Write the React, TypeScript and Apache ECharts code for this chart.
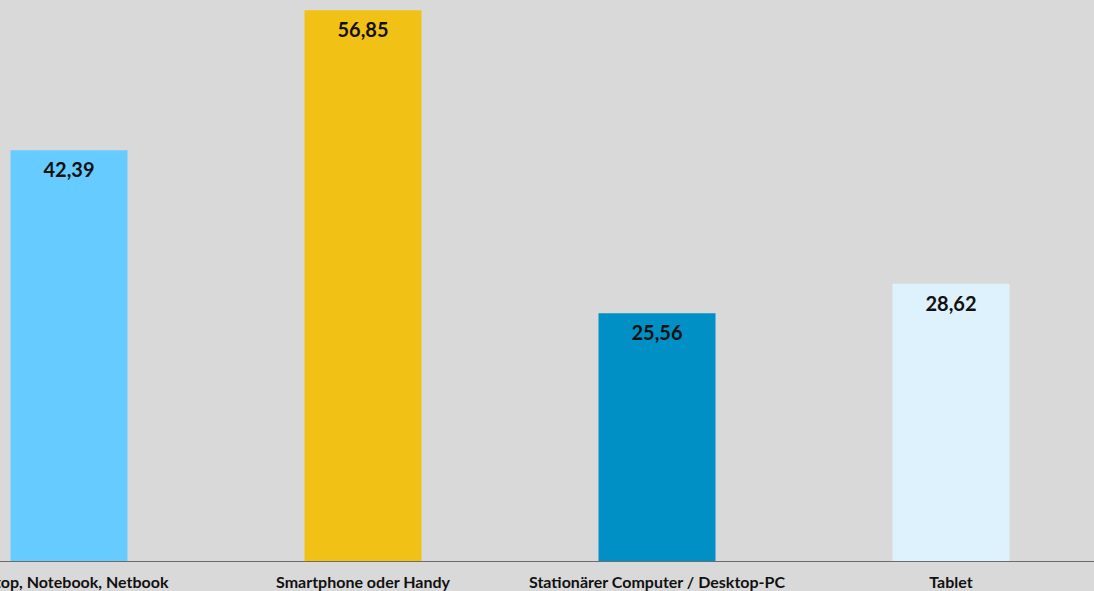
import React, { useEffect, useRef } from "react";
import * as echarts from "echarts";

const categories = [
  "Laptop, Notebook, Netbook",
  "Smartphone oder Handy",
  "Stationärer Computer / Desktop-PC",
  "Tablet",
];
const values = [42.39, 56.85, 25.56, 28.62];
const barColors = ["#66ccff", "#f2c116", "#0090c5", "#def2fd"];

export default function App() {
  const ref = useRef<HTMLDivElement>(null);
  useEffect(() => {
    if (!ref.current) return;
    const chart = echarts.init(ref.current, undefined, { renderer: "svg" });
    chart.setOption({
      animation: false,
      backgroundColor: "#d9d9d9",
      grid: { left: 0, right: 0, top: 0, bottom: 30, containLabel: false },
      xAxis: {
        type: "category",
        data: categories,
        boundaryGap: true,
        axisLine: { show: true, lineStyle: { color: "#6b6b6b", width: 1 } },
        axisTick: { show: false },
        axisLabel: {
          interval: 0,
          margin: 12,
          color: "#111",
          fontSize: 16,
          fontWeight: "bold",
          fontFamily: "Lato",
        },
      },
      yAxis: {
        type: "value",
        min: 0,
        max: 57.9,
        show: false,
        splitLine: { show: false },
      },
      series: [
        {
          type: "bar",
          barWidth: 117,
          data: values.map((v, i) => ({ value: v, itemStyle: { color: barColors[i] } })),
          label: {
            show: true,
            position: "insideTop",
            distance: 9,
            color: "#111",
            fontSize: 20,
            fontWeight: "bold",
            fontFamily: "Lato",
            formatter: (p: any) => p.value.toFixed(2).replace(".", ","),
          },
        },
      ],
    });
    return () => chart.dispose();
  }, []);
  return (
    <div
      style={{
        position: "fixed",
        left: 0,
        top: 0,
        width: 1094,
        height: 591,
        overflow: "hidden",
        background: "#d9d9d9",
      }}
    >
      <div
        ref={ref}
        style={{ position: "absolute", left: -78, top: 0, width: 1176, height: 591 }}
      />
    </div>
  );
}
